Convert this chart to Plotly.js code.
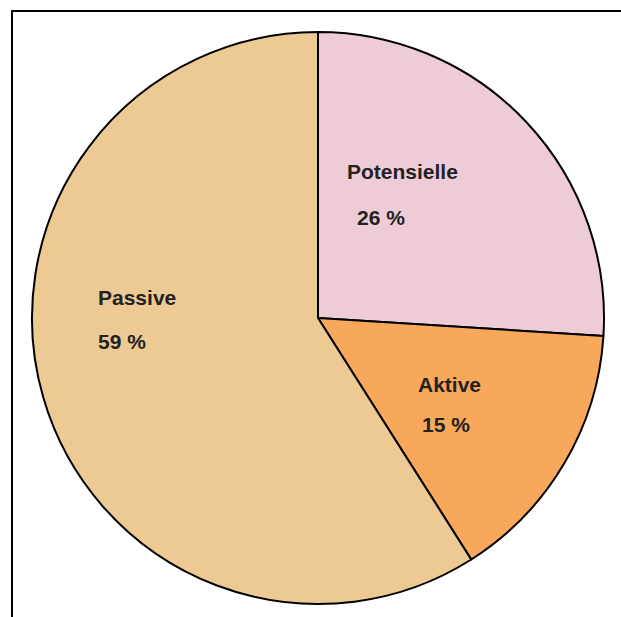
<!DOCTYPE html>
<html>
<head>
<meta charset="utf-8">
<script src="https://cdn.plot.ly/plotly-3.0.1.min.js"></script>
<style>
html,body{margin:0;padding:0;background:#fff;}
#chart{position:absolute;left:0;top:0;width:621px;height:617px;}
</style>
</head>
<body>
<div id="chart"></div>
<script>
const labels = ["Potensielle", "Aktive", "Passive"];
const values = [26, 15, 59];
const colors = ["#EECCD7", "#F8A85A", "#EDCA94"];

const W = 621, H = 617;
// label anchor positions (pixels, left edge / vertical middle) for name and percent lines
const namePos = [[345, 171], [416, 384], [96, 297]];
const pctPos  = [[355, 217], [420, 424], [96, 341]];

const annotations = [];
labels.forEach((lab, i) => {
  annotations.push({
    text: "<b>" + lab + "</b>", xref: "paper", yref: "paper",
    x: namePos[i][0] / W, y: 1 - namePos[i][1] / H,
    xanchor: "left", yanchor: "middle", showarrow: false,
    font: {family: "Liberation Sans, Arial, sans-serif", size: 21, color: "#222"}
  });
  annotations.push({
    text: "<b>" + values[i] + " %</b>", xref: "paper", yref: "paper",
    x: pctPos[i][0] / W, y: 1 - pctPos[i][1] / H,
    xanchor: "left", yanchor: "middle", showarrow: false,
    font: {family: "Liberation Sans, Arial, sans-serif", size: 21, color: "#222"}
  });
});

const trace = {
  type: "pie",
  labels: labels,
  values: values,
  sort: false,
  direction: "clockwise",
  rotation: 0,
  marker: {colors: colors, line: {color: "#000", width: 2}},
  textinfo: "none",
  hoverinfo: "none",
  showlegend: false,
  domain: {x: [32 / W, 604 / W], y: [1 - 604 / H, 1 - 32 / H]}
};

const layout = {
  width: W, height: H,
  margin: {l: 0, r: 0, t: 0, b: 0},
  paper_bgcolor: "#fff",
  showlegend: false,
  annotations: annotations,
  shapes: [
    {type: "line", xref: "paper", yref: "paper", x0: 11 / W, x1: 1, y0: 1 - 11 / H, y1: 1 - 11 / H, line: {color: "#000", width: 2}},
    {type: "line", xref: "paper", yref: "paper", x0: 12 / W, x1: 12 / W, y0: 1 - 10 / H, y1: 0, line: {color: "#000", width: 2}}
  ]
};

Plotly.newPlot("chart", [trace], layout, {displayModeBar: false, staticPlot: true});
</script>
</body>
</html>
